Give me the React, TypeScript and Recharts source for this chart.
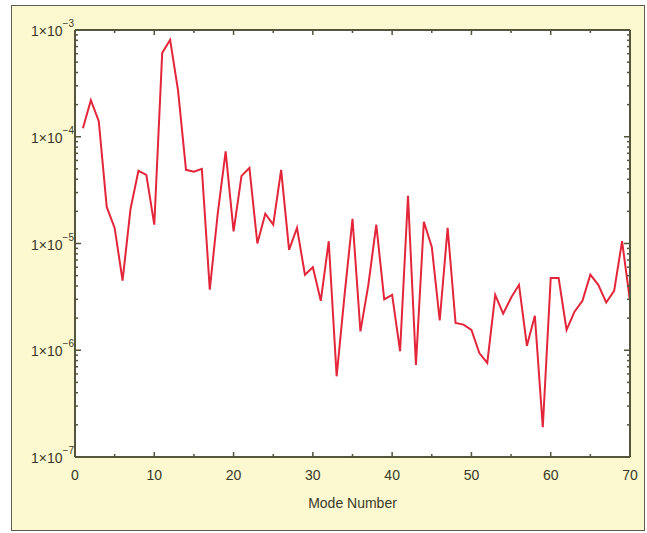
import { LineChart, Line, XAxis, YAxis } from 'recharts'

// mode numbers 1..70 and the measured amplitude for each
const MODES: number[] = Array.from({ length: 70 }, (_, i) => i + 1)

const AMPLITUDES: number[] = [
  1.2e-4, 2.2e-4, 1.4e-4, 2.2e-5, 1.4e-5, 4.5e-6, 2.1e-5, 4.8e-5, 4.4e-5, 1.5e-5,
  6.1e-4, 8.1e-4, 2.7e-4, 4.9e-5, 4.7e-5, 5.0e-5, 3.7e-6, 1.9e-5, 7.3e-5, 1.3e-5,
  4.3e-5, 5.1e-5, 1.0e-5, 1.9e-5, 1.5e-5, 4.9e-5, 8.7e-6, 1.4e-5, 5.1e-6, 6.0e-6,
  2.9e-6, 1.05e-5, 5.7e-7, 3.3e-6, 1.7e-5, 1.5e-6, 4.1e-6, 1.5e-5, 3.0e-6, 3.3e-6,
  9.8e-7, 2.8e-5, 7.3e-7, 1.6e-5, 9.3e-6, 1.9e-6, 1.4e-5, 1.8e-6, 1.74e-6, 1.55e-6,
  9.4e-7, 7.6e-7, 3.3e-6, 2.2e-6, 3.1e-6, 4.1e-6, 1.1e-6, 2.1e-6, 1.9e-7, 4.75e-6,
  4.75e-6, 1.55e-6, 2.3e-6, 2.9e-6, 5.1e-6, 4.1e-6, 2.8e-6, 3.6e-6, 1.05e-5, 2.9e-6,
]

const X_TICKS: number[] = [0, 5, 10, 15, 20, 25, 30, 35, 40, 45, 50, 55, 60, 65, 70]
const X_LABELS: number[] = [0, 10, 20, 30, 40, 50, 60, 70]
const DECADES: number[] = [-7, -6, -5, -4, -3]

const Y_TICKS: number[] = []
DECADES.forEach((e) => {
  for (let m = 1; m <= 9; m++) {
    if (e === -3 && m > 1) break
    Y_TICKS.push(m * Math.pow(10, e))
  }
})

const data = MODES.map((mode, i) => ({ mode, amp: AMPLITUDES[i] }))

const FRAME = '#55553d'
const TEXT = '#3a3a2a'
const FONT = '"Liberation Sans", Arial, Helvetica, sans-serif'

const isDecade = (v: number) => {
  const e = Math.log10(v)
  return Math.abs(e - Math.round(e)) < 1e-6
}

// tick marks point into the plot; labels sit outside
function BottomTick(props: any) {
  const { x, y, payload } = props
  const v = payload.value
  const len = v % 10 === 0 ? 5 : 3
  return (
    <g>
      <rect x={x - 0.75} y={y - len} width={1.5} height={len} fill={FRAME} stroke="none" />
      {X_LABELS.includes(v) && (
        <text x={x} y={y + 23} textAnchor="middle" fontSize={14} fontFamily={FONT} fill={TEXT} stroke="none">
          {v}
        </text>
      )}
    </g>
  )
}

function TopTick(props: any) {
  const { x, y, payload } = props
  const len = payload.value % 10 === 0 ? 5 : 3
  return <rect x={x - 0.75} y={y} width={1.5} height={len} fill={FRAME} stroke="none" />
}

function LeftTick(props: any) {
  const { x, y, payload } = props
  const v = payload.value
  const major = isDecade(v)
  const len = major ? 6 : 3
  const exp = Math.round(Math.log10(v))
  return (
    <g>
      <rect x={x} y={y - 0.75} width={len} height={1.5} fill={FRAME} stroke="none" />
      {major && (
        <text x={x - 1} y={y + 6} textAnchor="end" fontSize={14} fontFamily={FONT} fill={TEXT} stroke="none">
          1×10
          <tspan dy={-9} fontSize={10}>
            {'−' + Math.abs(exp)}
          </tspan>
        </text>
      )}
    </g>
  )
}

function RightTick(props: any) {
  const { x, y, payload } = props
  const len = isDecade(payload.value) ? 6 : 3
  return <rect x={x - len} y={y - 0.75} width={len} height={1.5} fill={FRAME} stroke="none" />
}

export default function App() {
  return (
    <div
      style={{
        position: 'absolute',
        left: 11,
        top: 5,
        width: 632,
        height: 524,
        border: '1px solid #5c5c50',
        background: '#fcf8cf',
      }}
    >
      {/* white plot background behind the transparent svg */}
      <div
        style={{
          position: 'absolute',
          left: 63,
          top: 24,
          width: 555,
          height: 427,
          background: '#ffffff',
        }}
      />
      <div style={{ position: 'absolute', left: 0, top: 0 }}>
        <LineChart
          width={632}
          height={524}
          data={data}
          margin={{ top: 23, right: 13, bottom: 0, left: 0 }}
        >
          <XAxis
            dataKey="mode"
            type="number"
            domain={[0, 70]}
            ticks={X_TICKS}
            interval={0}
            height={73}
            tickSize={0}
            tickMargin={0}
            axisLine={{ stroke: FRAME, strokeWidth: 2 }}
            tick={<BottomTick />}
            label={{
              value: 'Mode Number',
              position: 'insideBottom',
              offset: 22,
              fontSize: 14,
              fontFamily: FONT,
              fill: TEXT,
            }}
          />
          <XAxis
            xAxisId="top"
            orientation="top"
            dataKey="mode"
            type="number"
            domain={[0, 70]}
            ticks={X_TICKS}
            interval={0}
            height={1}
            tickSize={0}
            tickMargin={0}
            axisLine={{ stroke: FRAME, strokeWidth: 2 }}
            tick={<TopTick />}
          />
          <YAxis
            type="number"
            scale="log"
            domain={[1e-7, 1e-3]}
            allowDataOverflow
            ticks={Y_TICKS}
            interval={0}
            width={63}
            tickSize={0}
            tickMargin={0}
            axisLine={{ stroke: FRAME, strokeWidth: 2 }}
            tick={<LeftTick />}
          />
          <YAxis
            yAxisId="right"
            orientation="right"
            type="number"
            scale="log"
            domain={[1e-7, 1e-3]}
            allowDataOverflow
            ticks={Y_TICKS}
            interval={0}
            width={1}
            tickSize={0}
            tickMargin={0}
            axisLine={{ stroke: FRAME, strokeWidth: 2 }}
            tick={<RightTick />}
          />
          <Line
            type="linear"
            dataKey="amp"
            stroke="#e3263a"
            strokeWidth={2}
            dot={false}
            isAnimationActive={false}
          />
        </LineChart>
      </div>
    </div>
  )
}
